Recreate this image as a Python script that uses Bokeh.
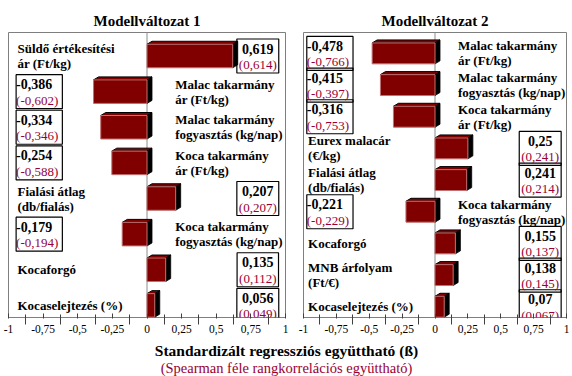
from bokeh.plotting import figure
from bokeh.layouts import row, column
from bokeh.models import Range1d, FixedTicker, ColumnDataSource
from bokeh.core.properties import value
from bokeh.embed import file_html
from bokeh.resources import INLINE

FONT = "'Liberation Serif', 'Times New Roman', serif"
MAROON = "#800000"
PAREN = "#990033"

# ---- data ----
m1_labels = ["Süldő értékesítési\nár (Ft/kg)", "Malac takarmány\nár (Ft/kg)",
             "Malac takarmány\nfogyasztás (kg/nap)", "Koca takarmány\nár (Ft/kg)",
             "Fialási átlag\n(db/fialás)", "Koca takarmány\nfogyasztás (kg/nap)",
             "Kocaforgó", "Kocaselejtezés (%)"]
m1_beta = [0.619, -0.386, -0.334, -0.254, 0.207, -0.179, 0.135, 0.056]
m1_rho = [0.614, -0.602, -0.346, -0.588, 0.207, -0.194, 0.112, 0.049]

m2_labels = ["Malac takarmány\nár (Ft/kg)", "Malac takarmány\nfogyasztás (kg/nap)",
             "Koca takarmány\nár (Ft/kg)", "Eurex malacár\n(€/kg)",
             "Fialási átlag\n(db/fialás)", "Koca takarmány\nfogyasztás (kg/nap)",
             "Kocaforgó", "MNB árfolyam\n(Ft/€)", "Kocaselejtezés (%)"]
m2_beta = [-0.478, -0.415, -0.316, 0.25, 0.241, -0.221, 0.155, 0.138, 0.07]
m2_rho = [-0.766, -0.397, -0.753, 0.241, 0.214, -0.229, 0.137, 0.145, 0.067]

tick_values = [-1, -0.75, -0.5, -0.25, 0, 0.25, 0.5, 0.75, 1]
tick_labels = ["-1", "-0,75", "-0,5", "-0,25", "0", "0,25", "0,5", "0,75", "1"]

titles = ["Modellváltozat 1", "Modellváltozat 2"]
x_title = "Standardizált regressziós együttható (ß)"
x_subtitle = "(Spearman féle rangkorrelációs együttható)"


def fmt(v):
    s = f"{v:.3f}".rstrip("0")
    return s.replace(".", ",")


TOP_H = 340


def panel(title, labels, beta, rho, width, bl, br, bt, bb, left_x, right_x):
    n = len(labels)
    p = figure(width=width, height=TOP_H, x_range=Range1d(-1, 1), y_range=Range1d(n, 0),
               output_backend="svg", toolbar_location=None, y_axis_location=None,
               min_border_left=bl, min_border_right=br, min_border_top=bt, min_border_bottom=bb,
               background_fill_color="white", border_fill_color="white")
    p.title.text = title
    p.title.align = "center"
    p.title.text_font = FONT
    p.title.text_font_size = "15px"
    p.title.text_font_style = "bold"
    p.title.text_color = "black"
    p.title.standoff = 7
    p.xgrid.visible = False
    p.ygrid.visible = False
    p.outline_line_color = "#7f7f7f"
    p.outline_line_width = 1

    frame_w = width - bl - br
    frame_h = TOP_H - bt - bb
    dx = 5 / (frame_w / 2)
    dy = 3 / (frame_h / n)

    # zero line
    p.segment(x0=[0], y0=[0], x1=[0], y1=[n], line_color="#8c8c8c", line_width=1)

    idx = list(range(n))
    lefts = [min(v, 0) for v in beta]
    rights = [max(v, 0) for v in beta]
    tops = [i + 0.33 for i in idx]
    bots = [i + 0.99 for i in idx]
    top_xs = [[l, r, r + dx, l + dx] for l, r in zip(lefts, rights)]
    top_ys = [[t, t, t - dy, t - dy] for t in tops]
    side_xs = [[r, r + dx, r + dx, r] for r in rights]
    side_ys = [[t, t - dy, b - dy, b] for t, b in zip(tops, bots)]

    p.patches(xs=side_xs, ys=side_ys, fill_color="black", line_color="black", line_width=0.8)
    p.patches(xs=top_xs, ys=top_ys, fill_color=MAROON, line_color="black", line_width=1)
    p.quad(left=lefts, right=rights, top=tops, bottom=bots, fill_color=MAROON,
           line_color="#c07070", line_width=1)

    mids = [i + 0.66 for i in idx]
    lab_x = [left_x if v > 0 else right_x for v in beta]
    box_x = [0.80 if v > 0 else left_x - 0.01 for v in beta]
    box_align = ["center" if v > 0 else "left" for v in beta]
    vals = [fmt(v) for v in beta]
    parens = ["(" + fmt(v) + ")" for v in rho]
    both = [a + "\n" + b for a, b in zip(vals, parens)]
    src = ColumnDataSource(dict(y=mids, lab_x=lab_x, lab=labels, box_x=box_x,
                                align=box_align, val=vals, par=parens, both=both))

    p.text(x="lab_x", y="y", text="lab", source=src, text_font=value(FONT),
           text_font_size="13px", text_font_style="bold", text_color="black",
           text_align="left", text_baseline="middle", text_line_height=1.0)
    # box
    p.text(x="box_x", y="y", text="both", source=src, text_font=value(FONT),
           text_font_size="13px", text_alpha=0, text_align="align",
           text_baseline="middle", text_line_height=1.0,
           border_line_color="black", border_line_width=1.2, padding=2)
    p.text(x="box_x", y="y", text="val", source=src, text_font=value(FONT),
           text_font_size="14px", text_font_style="bold", text_color="black",
           text_align="align", text_baseline="middle", y_offset=-7.5)
    p.text(x="box_x", y="y", text="par", source=src, text_font=value(FONT),
           text_font_size="13px", text_color=PAREN,
           text_align="align", text_baseline="middle", y_offset=8.5)

    ax = p.xaxis[0]
    ax.ticker = FixedTicker(ticks=tick_values,
                            minor_ticks=[(a + b) / 2 for a, b in zip(tick_values[:-1], tick_values[1:])])
    ax.major_label_overrides = {t: l for t, l in zip(tick_values, tick_labels)}
    ax.axis_line_color = None
    ax.major_tick_in = 4
    ax.major_tick_out = 1
    ax.minor_tick_in = 3
    ax.minor_tick_out = 7
    ax.major_tick_line_color = "#404040"
    ax.minor_tick_line_color = "#404040"
    ax.major_label_text_font = FONT
    ax.major_label_text_font_size = "11.5px"
    ax.major_label_text_color = "black"
    ax.major_label_standoff = 0
    return p


p1 = panel(titles[0], m1_labels, m1_beta, m1_rho, 294, 8, 9, 31, 23, -0.935, 0.204)
p2 = panel(titles[1], m2_labels, m2_beta, m2_rho, 278, 9, 6, 32, 23, -0.965, 0.175)

pb = figure(width=572, height=36, x_range=Range1d(0, 1), y_range=Range1d(1, 0),
            output_backend="svg", toolbar_location=None,
            x_axis_location=None, y_axis_location=None,
            min_border_left=0, min_border_right=0, min_border_top=0, min_border_bottom=0,
            outline_line_color=None, background_fill_color="white", border_fill_color="white")
pb.xgrid.visible = False
pb.ygrid.visible = False
pb.text(x=[0.5], y=[0.28], text=[x_title], text_font=value(FONT), text_font_size="15.5px",
        text_font_style="bold", text_color="black", text_align="center", text_baseline="middle")
pb.text(x=[0.5], y=[0.77], text=[x_subtitle], text_font=value(FONT), text_font_size="14.5px",
        text_color=PAREN, text_align="center", text_baseline="middle")

layout = column(row(p1, p2), pb)
open("out.html", "w").write(file_html(layout, INLINE))
